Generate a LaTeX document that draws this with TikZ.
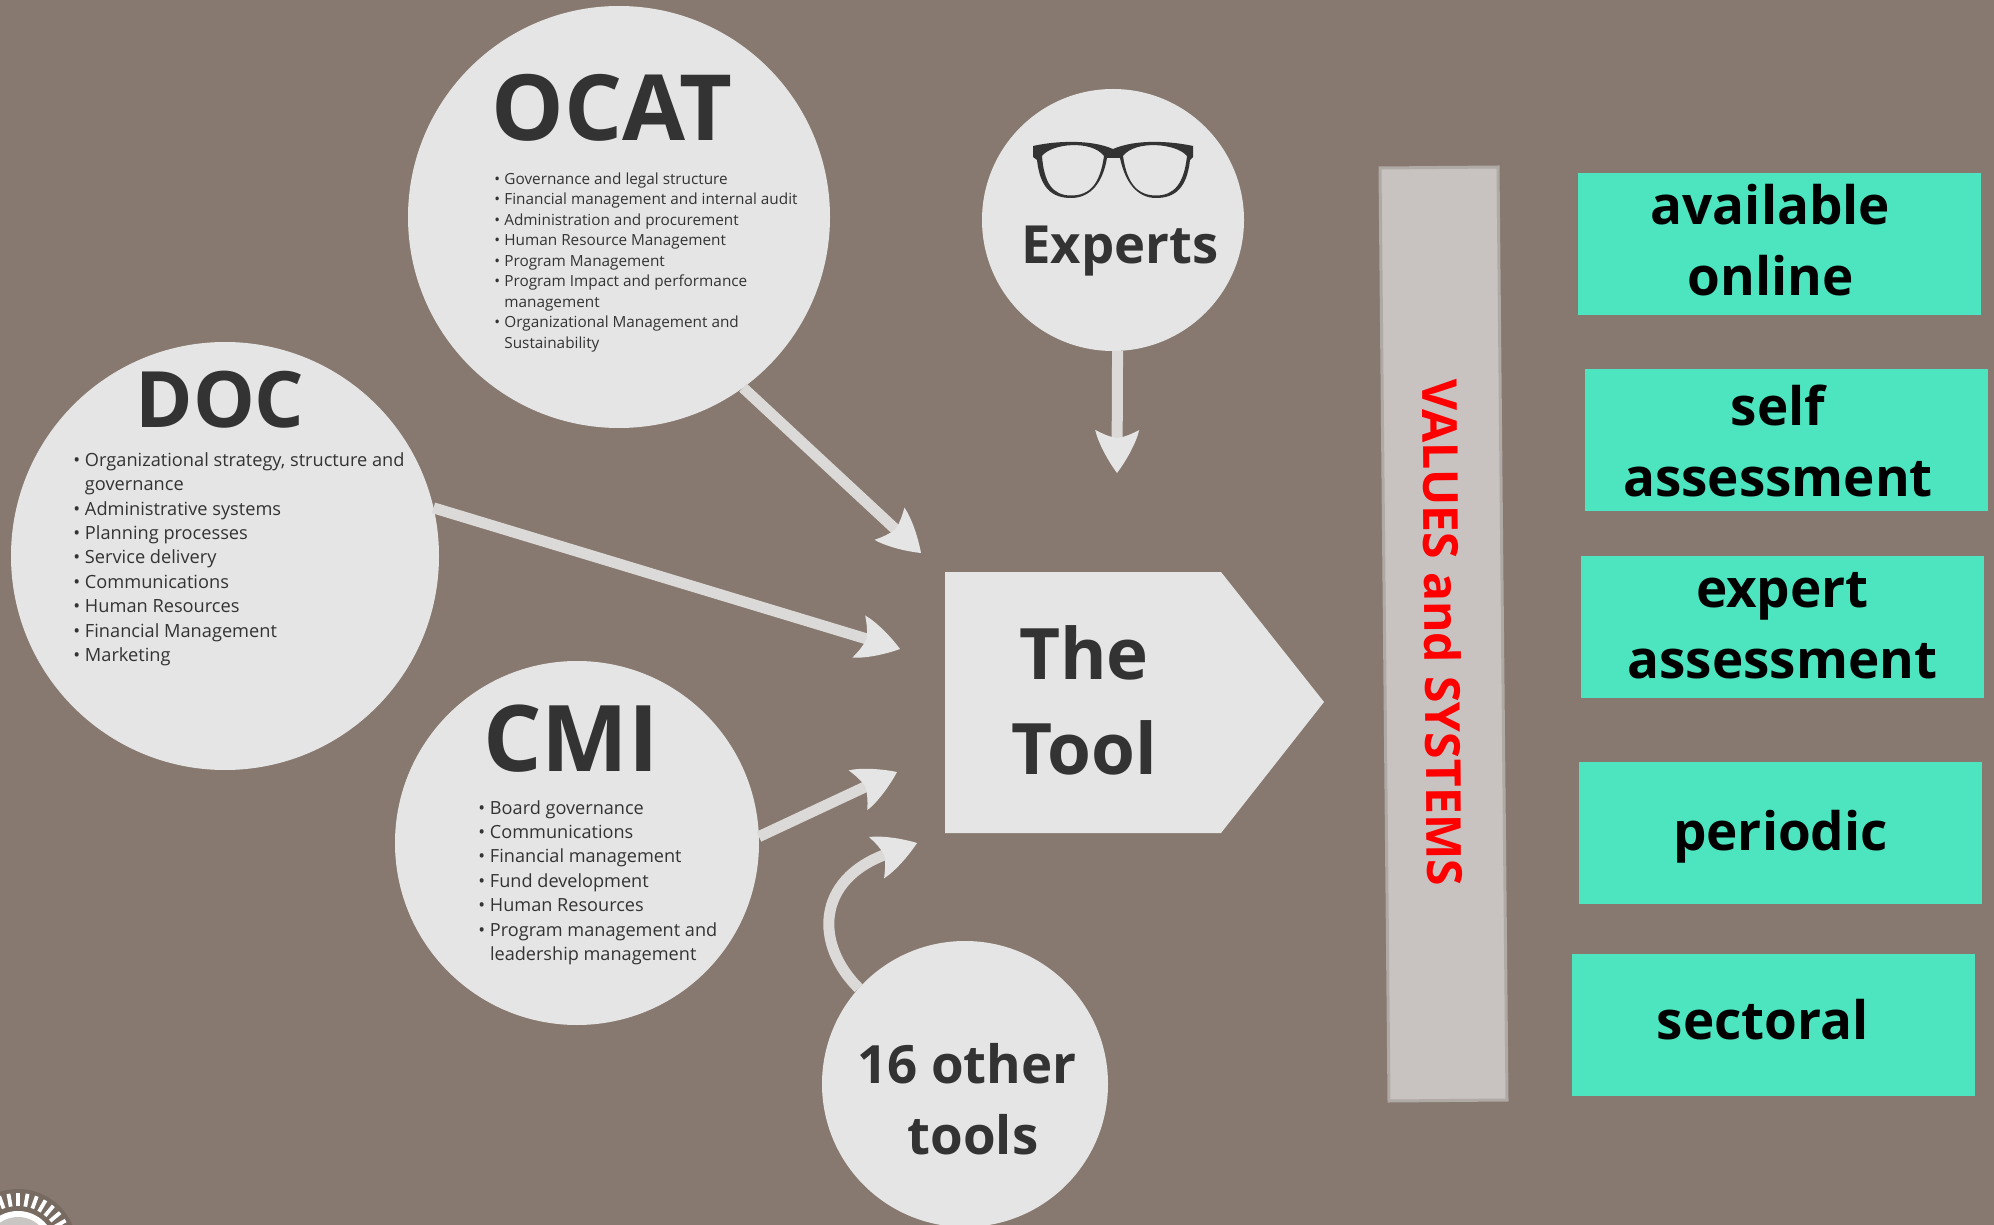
\documentclass[tikz,border=0pt]{standalone}
\usepackage{fontspec}
\setmainfont{Open Sans}
\usetikzlibrary{arrows.meta}
\definecolor{bgc}{HTML}{87796F}
\definecolor{halo}{HTML}{776A61}
\definecolor{disc}{HTML}{E5E5E5}
\definecolor{ink}{HTML}{333333}
\definecolor{teal}{HTML}{4DE4C0}
\definecolor{barc}{HTML}{C8C3C0}
\definecolor{barl}{HTML}{B0AAA6}
\definecolor{shaft}{HTML}{DCDAD8}
\pgfdeclarearrow{
  name=Swept,
  setup code={
    \pgfarrowssettipend{0pt}
    \pgfarrowssetlineend{-16pt}
    \pgfarrowssetbackend{-21.5pt}
    \pgfarrowssetvisualbackend{-17pt}
  },
  drawing code={
    \pgfpathmoveto{\pgfpoint{0pt}{0pt}}
    \pgfpathcurveto{\pgfpoint{-6pt}{4.5pt}}{\pgfpoint{-15pt}{9.5pt}}{\pgfpoint{-21.5pt}{11pt}}
    \pgfpathcurveto{\pgfpoint{-19.5pt}{7pt}}{\pgfpoint{-18pt}{4pt}}{\pgfpoint{-17.5pt}{0pt}}
    \pgfpathcurveto{\pgfpoint{-18pt}{-4pt}}{\pgfpoint{-19.5pt}{-7pt}}{\pgfpoint{-21.5pt}{-11pt}}
    \pgfpathcurveto{\pgfpoint{-15pt}{-9.5pt}}{\pgfpoint{-6pt}{-4.5pt}}{\pgfpoint{0pt}{0pt}}
    \pgfpathclose
    \pgfusepathqfill
  },
}
\newcommand{\bl}{\makebox[5pt][l]{\raisebox{0pt}{\textbullet}}}
\newcommand{\cn}{\hspace*{5pt}}
\newcommand{\blw}{\makebox[5.8pt][l]{\raisebox{0pt}{\textbullet}}}
\newcommand{\cnw}{\hspace*{5.8pt}}
\tikzset{
  disk/.style={circle,fill=disc,inner sep=0pt,outer sep=0pt},
  head/.style={text=ink,font=\bfseries\fontsize{#1}{#1}\selectfont,inner sep=0pt},
  lst/.style={text=ink,align=left,anchor=north west,inner sep=0pt},
  tag/.style={fill=teal,minimum width=201.5pt,minimum height=71pt,inner sep=0pt,outer sep=0pt,anchor=north west},
  tagtext/.style={text=black,font=\bfseries\fontsize{26.5}{35.5}\selectfont,align=center,inner sep=0pt},
  flow/.style={draw=shaft,line width=5.5pt,-{Swept[color=disc]}},
}
\begin{document}
\begin{tikzpicture}[x=0.5pt,y=-0.5pt]
\clip (0,0) rectangle (1994,1225);
\fill[bgc] (0,0) rectangle (1994,1225);
% logo fragment
\fill[halo] (18,1248) circle (59);
\foreach \a in {-170,-160,...,-10}{\draw[white,line width=1.9pt] ({18+42*cos(\a)},{1248+42*sin(\a)}) -- ({18+55*cos(\a)},{1248+55*sin(\a)});}
\fill[white] (18,1248) circle (37);
\fill[disc!70!bgc] (18,1248) circle (31);
% free ends of the connectors
\coordinate (ocatTip) at (921,553);
\coordinate (docTip) at (900,649);
\coordinate (cmiTip) at (897,772);
\coordinate (otherTip) at (917,843);
\coordinate (expTip) at (1117,473);
\node[disk,minimum size=211pt] (ocat) at (619,217) {};
\node[disk,minimum size=131pt] (experts) at (1113,220) {};
\node[disk,minimum size=214pt] (doc) at (225,556) {};
\node[disk,minimum size=182pt] (cmi) at (577,843) {};
\node[disk,minimum size=143pt] (other) at (965,1084) {};
\draw[flow] (ocat.-54.5) -- (ocatTip);
\draw[flow] (doc.13.4) -- (docTip);
\draw[flow] (cmi.2.5) -- (cmiTip);
\draw[flow] (other.138) .. controls (815,945) and (815,880) .. (otherTip);
\draw[flow] (experts.-88) -- (expTip);
% pentagon
\fill[disc] (945,572) -- (1221,572) -- (1324,702) -- (1221,833) -- (945,833) -- cycle;
\node[head=35.5] (toolA) at (1084,653) {The};
\node[head=35.5] (toolB) at (1084,748) {Tool};
% titles
\node[head=45.7] (ocatT) at (612,108) {OCAT};
\node[head=38.9] (docT) at (220,400) {DOC};
\node[head=46] (cmiT) at (571,739) {CMI};
\node[head=26.3] (expT) at (1120,251) {Experts};
\node[head=26.4] (otherA) at (967,1064) {16 other};
\node[head=26.4] (otherB) at (973,1135) {tools};
% glasses
\fill[ink,even odd rule]
 (1033,146) .. controls (1055,141) and (1090,139) .. (1113,149)
 .. controls (1136,139) and (1170,141) .. (1193,146) -- (1193,157) -- (1190,160)
 .. controls (1187,188) and (1175,198) .. (1156,198)
 .. controls (1137,198) and (1125,182) .. (1120,158) -- (1107,158)
 .. controls (1103,182) and (1091,198) .. (1071,198)
 .. controls (1052,198) and (1040,188) .. (1037,160) -- (1033,157) -- cycle
 (1042,156) .. controls (1052,143) and (1092,140) .. (1104,156)
 .. controls (1100,184) and (1090,195.5) .. (1071,195.5)
 .. controls (1052,195.5) and (1044,182) .. (1042,156) -- cycle
 (1123,156) .. controls (1135,140) and (1176,143) .. (1187,156)
 .. controls (1184,184) and (1174,195.5) .. (1156,195.5)
 .. controls (1138,195.5) and (1127,184) .. (1123,156) -- cycle;
% lists
\node[lst,font=\fontsize{7.66}{10.25}\selectfont] (ocatL) at (494,172) {%
\bl Governance and legal structure\\
\bl Financial management and internal audit\\
\bl Administration and procurement\\
\bl Human Resource Management\\
\bl Program Management\\
\bl Program Impact and performance\\
\cn management\\
\bl Organizational Management and\\
\cn Sustainability};
\node[lst,font=\fontsize{9.1}{12.2}\selectfont] (docL) at (73,452) {%
\blw Organizational strategy, structure and\\
\cnw governance\\
\blw Administrative systems\\
\blw Planning processes\\
\blw Service delivery\\
\blw Communications\\
\blw Human Resources\\
\blw Financial Management\\
\blw Marketing};
\node[lst,font=\fontsize{9.06}{12.2}\selectfont] (cmiL) at (478,800) {%
\blw Board governance\\
\blw Communications\\
\blw Financial management\\
\blw Fund development\\
\blw Human Resources\\
\blw Program management and\\
\cnw leadership management};
% bar
\filldraw[fill=barc,draw=barl,line width=1.5pt] (1380,168) -- (1498,167) -- (1507,1100) -- (1389,1101) -- cycle;
\node[rotate=-89.45,text=red,font=\bfseries\fontsize{24.15}{24.15}\selectfont,inner sep=0pt] (vals) at (1443,633) {VALUES and SYSTEMS};
% tags
\node[tag] (t1) at (1578,173) {};
\node[tag] (t2) at (1585,369) {};
\node[tag] (t3) at (1581,556) {};
\node[tag] (t4) at (1579,762) {};
\node[tag] (t5) at (1572,954) {};
\node[tagtext] (l1) at (t1.center) [xshift=-4.5pt,yshift=1.7pt] {available\\online};
\node[tagtext] (l2) at (t2.center) [xshift=-4.25pt,yshift=-0.6pt] {self\\assessment};
\node[tagtext] (l3) at (t3.center) [yshift=0.5pt] {expert\\assessment};
\node[tagtext] (l4) at (t4.center) [xshift=0pt,yshift=-1.7pt] {periodic};
\node[tagtext] (l5) at (t5.center) [xshift=-5.3pt,yshift=2.5pt] {sectoral};
\end{tikzpicture}
\end{document}
